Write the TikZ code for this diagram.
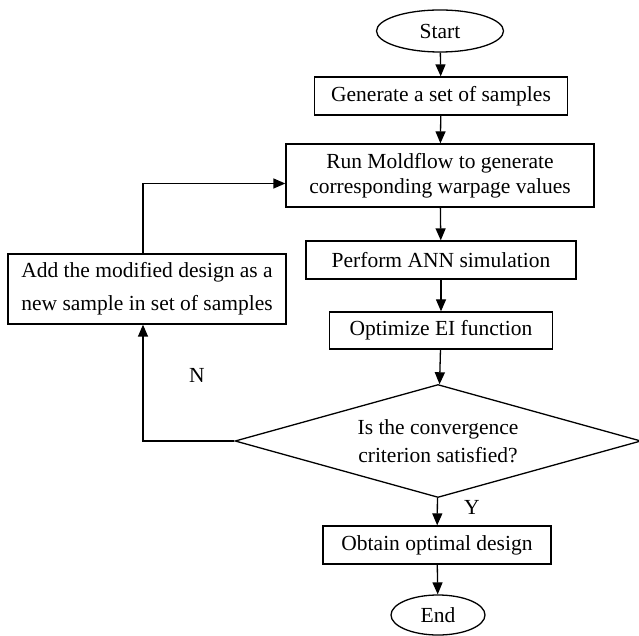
\documentclass[tikz,border=0pt]{standalone}
\usepackage{fontspec}
\setmainfont{Liberation Serif}
\usetikzlibrary{arrows.meta,shapes.geometric}

\begin{document}
\begin{tikzpicture}[x=1pt,y=1pt,
  box/.style={draw,line width=1.3pt,inner sep=0pt,align=center,font=\fontsize{21.5}{25}\selectfont},
  term/.style={ellipse,draw,line width=1.3pt,inner sep=0pt,font=\fontsize{21.5}{25}\selectfont},
  decision/.style={diamond,draw,line width=1.3pt,inner sep=0pt,aspect=3.6,align=center,font=\fontsize{21.5}{28}\selectfont},
  flow/.style={-{Triangle[width=10pt,length=12pt]},line width=1.3pt}]
  \useasboundingbox (0,0) rectangle (639,635);
  % main column
  \node[term,minimum width=127pt,minimum height=42pt] (start) at (440,604) {Start};
  \node[box,minimum width=253pt,minimum height=38pt] (gen) at (441,539) {Generate a set of samples};
  \node[box,minimum width=308pt,minimum height=63pt] (run) at (440,459.5) {Run Moldflow to generate\\corresponding warpage values};
  \node[box,minimum width=270pt,minimum height=38pt] (ann) at (441,375) {Perform ANN simulation};
  \node[box,minimum width=223pt,minimum height=37pt] (ei) at (441,304.5) {Optimize EI function};
  \node[decision,minimum width=406pt,minimum height=113pt] (conv) at (438,194) {Is the convergence\\criterion satisfied?};
  \node[box,minimum width=228pt,minimum height=38pt] (best) at (437,90) {Obtain optimal design};
  \node[term,minimum width=94pt,minimum height=40pt] (stop) at (438,20) {End};
  % loop box
  \node[box,minimum width=278pt,minimum height=70pt,font=\fontsize{21.5}{33}\selectfont] (add) at (147,346) {Add the modified design as a\\new sample in set of samples};
  \node[font=\fontsize{21.5}{25}\selectfont] (nlabel) at (197,260) {N};
  \node[font=\fontsize{21.5}{25}\selectfont] (ylabel) at (472,128) {Y};
  \draw[flow] (start) -- (gen);
  \draw[flow] (gen) -- (run);
  \draw[flow] (run) -- (ann);
  \draw[flow] (ann) -- (ei);
  \draw[flow] (ei) -- (conv);
  \draw[flow] (conv) -- (best);
  \draw[flow] (best) -- (stop);
  \draw[flow] (conv.west) -| ([xshift=-4pt]add.south);
  \draw[flow] ([xshift=-4pt]add.north) |- ([yshift=-8pt]run.west);
\end{tikzpicture}
\end{document}
